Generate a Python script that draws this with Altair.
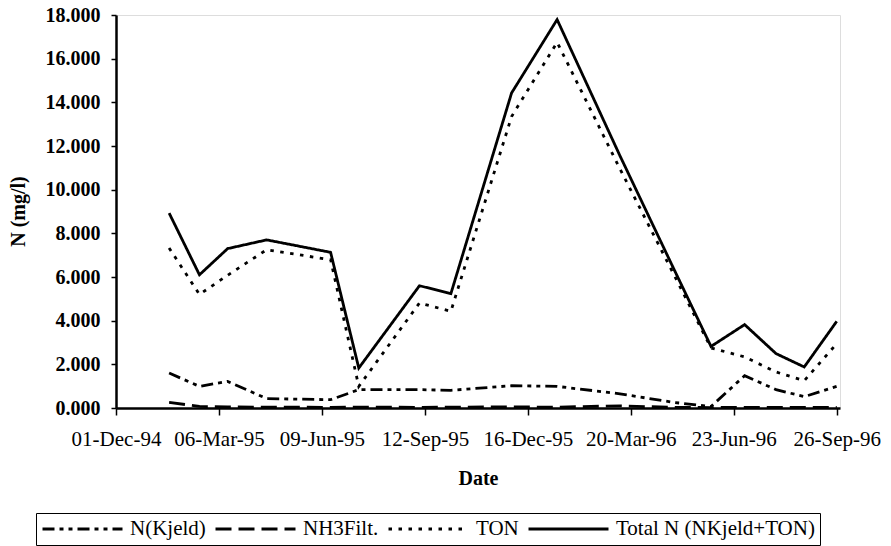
import altair as alt
import pandas as pd

# Sampling dates and nitrogen concentrations (mg/l)
dates = [
    "1995/01/19", "1995/02/16", "1995/03/14", "1995/04/19", "1995/06/17",
    "1995/07/13", "1995/09/07", "1995/10/06", "1995/12/01", "1996/01/12",
    "1996/03/10", "1996/04/28", "1996/06/02", "1996/07/03", "1996/08/01",
    "1996/08/27", "1996/09/26",
]
n_kjeld = [1.60, 0.99, 1.22, 0.43, 0.38, 0.84, 0.84, 0.81, 1.02, 0.99,
           0.65, 0.26, 0.07, 1.48, 0.84, 0.52, 0.99]
nh3_filt = [0.26, 0.07, 0.05, 0.04, 0.03, 0.04, 0.03, 0.04, 0.05, 0.04,
            0.10, 0.03, 0.02, 0.03, 0.03, 0.03, 0.03]
ton = [7.33, 5.20, 6.08, 7.25, 6.79, 0.99, 4.81, 4.43, 13.35, 16.75,
       10.95, 6.18, 2.75, 2.34, 1.65, 1.25, 2.95]
total_n = [8.93, 6.10, 7.30, 7.70, 7.13, 1.83, 5.60, 5.24, 14.43, 17.79,
           11.55, 6.44, 2.82, 3.82, 2.49, 1.88, 3.97]

series_names = ["N(Kjeld)", "NH3Filt.", "TON", "Total N (NKjeld+TON)"]
series_dash = [[12, 5, 4, 5, 4, 5], [16, 7], [3.5, 6.5], [1, 0]]
series_width = [2.8, 2.8, 3.2, 2.5]

# x-axis ticks every 95 days
tick_dates = [(1994, 12, 1), (1995, 3, 6), (1995, 6, 9), (1995, 9, 12),
              (1995, 12, 16), (1996, 3, 20), (1996, 6, 23), (1996, 9, 26)]

wide = pd.DataFrame({
    "Date": dates,
    series_names[0]: n_kjeld,
    series_names[1]: nh3_filt,
    series_names[2]: ton,
    series_names[3]: total_n,
})
df = wide.melt(id_vars="Date", var_name="series", value_name="value")
df["order"] = df["series"].map({s: i for i, s in enumerate(series_names)})

FONT = "Liberation Serif"

x_axis = alt.Axis(
    values=[alt.DateTime(year=y, month=m, date=d) for y, m, d in tick_dates],
    format="%d-%b-%y",
    title="Date",
    titleFont=FONT, titleFontSize=20, titleFontWeight="bold",
    titleY=70, titleBaseline="middle",
    labelFont=FONT, labelFontSize=21, labelFontWeight="normal",
    labelColor="black", labelPadding=13, labelOverlap=False, labelFlush=False,
    tickSize=7, tickColor="black", tickWidth=1.5,
    domainColor="black", domainWidth=2.5, grid=False,
)

y_axis = alt.Axis(
    values=list(range(0, 19, 2)),
    format=".3f",
    title="N (mg/l)",
    titleFont=FONT, titleFontSize=20, titleFontWeight="bold",
    titleX=-98, titleY=196, titleAlign="center", titleBaseline="middle",
    labelFont=FONT, labelFontSize=20, labelFontWeight="bold",
    labelColor="black", labelPadding=11, labelFlush=False,
    tickSize=5, tickColor="black", tickWidth=1.5,
    domainColor="black", domainWidth=2.5, grid=False,
)

legend = alt.Legend(
    title=None, orient="none", direction="horizontal",
    legendX=-80, legendY=498,
    symbolType="stroke", symbolSize=6400,
    symbolStrokeColor="black", clipHeight=22,
    labelFont=FONT, labelFontSize=21, labelColor="black", labelOffset=6,
    labelLimit=400, columnPadding=8, padding=5,
    strokeColor="black", fillColor="white",
)

chart = (
    alt.Chart(df)
    .mark_line(color="black", strokeCap="butt")
    .encode(
        x=alt.X("Date:T", axis=x_axis,
                scale=alt.Scale(domain=[alt.DateTime(year=1994, month=12, date=1),
                                        alt.DateTime(year=1996, month=9, date=29)])),
        y=alt.Y("value:Q", axis=y_axis, scale=alt.Scale(domain=[0, 18], nice=False)),
        strokeDash=alt.StrokeDash(
            "series:N",
            scale=alt.Scale(domain=series_names, range=series_dash),
            sort=series_names,
            legend=legend,
        ),
        strokeWidth=alt.StrokeWidth(
            "series:N",
            scale=alt.Scale(domain=series_names, range=series_width),
            legend=None,
        ),
        order=alt.Order("order:Q"),
    )
    .properties(
        width=724, height=393,
        autosize=alt.AutoSizeParams(type="none"),
        padding={"left": 116, "top": 15, "right": 51, "bottom": 138},
    )
    .configure_view(stroke="#555555", strokeWidth=1, strokeDash=[1, 2])
    .configure(background="white")
)

chart.save("out.html", embed_options={"renderer": "svg", "actions": False})
